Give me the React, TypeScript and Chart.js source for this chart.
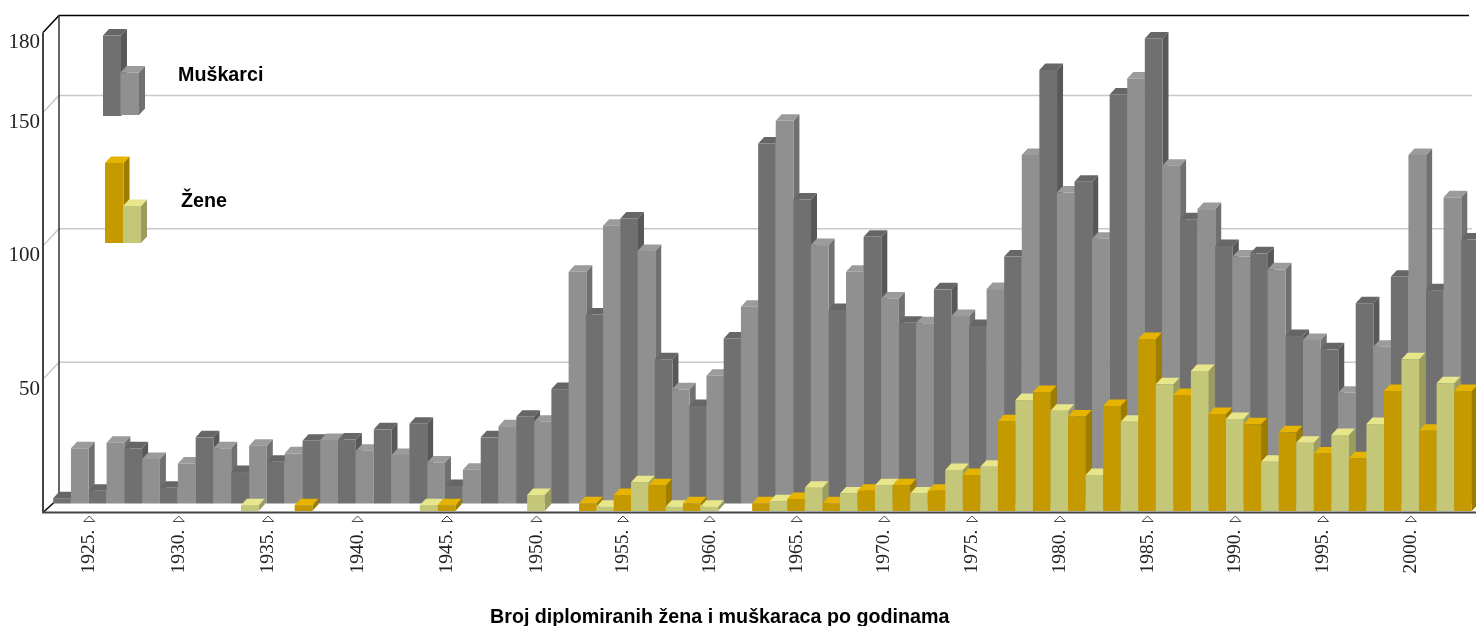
import React, { useEffect, useRef } from "react";
import { Chart, registerables, BarController, BarElement, CategoryScale } from "chart.js";

const firstYear = 1923;
const years = [
  1923, 1924, 1925, 1926, 1927, 1928, 1929, 1930, 1931, 1932, 1933, 1934, 1935, 1936, 1937, 1938, 1939, 1940, 1941, 1942,
  1943, 1944, 1945, 1946, 1947, 1948, 1949, 1950, 1951, 1952, 1953, 1954, 1955, 1956, 1957, 1958, 1959, 1960, 1961, 1962,
  1963, 1964, 1965, 1966, 1967, 1968, 1969, 1970, 1971, 1972, 1973, 1974, 1975, 1976, 1977, 1978, 1979, 1980, 1981, 1982,
  1983, 1984, 1985, 1986, 1987, 1988, 1989, 1990, 1991, 1992, 1993, 1994, 1995, 1996, 1997, 1998, 1999, 2000, 2001, 2002, 2003,
];
const tickYears = [1925, 1930, 1935, 1940, 1945, 1950, 1955, 1960, 1965, 1970, 1975, 1980, 1985, 1990, 1995, 2000];
const valueTicks = [50, 100, 150, 180];

const men = [
  2, 20.7, 4.8, 22.8, 20.7, 16.7, 5.9, 15, 24.8, 20.7, 11.8, 21.7, 15.7, 18.8, 23.5, 23.8, 24, 19.8, 27.8, 18.2,
  29.9, 15.4, 6.6, 12.7, 24.8, 29, 32.5, 30.7, 42.9, 86.9, 70.9, 104.2, 106.9, 94.7, 54.1, 42.8, 36.6, 47.9, 61.9, 73.8,
  135, 143.5, 114, 96.9, 72.6, 86.9, 100, 76.9, 67.8, 67.6, 80.3, 70.3, 66.6, 80.4, 92.6, 130.7, 162.6, 116.6, 120.7, 99.3,
  153.4, 159.4, 174.4, 126.7, 106.6, 110.4, 96.6, 92.6, 93.8, 87.8, 62.8, 61.3, 57.8, 41.5, 75.1, 58.8, 85, 130.7, 80, 114.8, 99,
];
const women = [
  null, null, null, null, null, null, null, null, null, null, null, 2.2, null, null, 2.2, null, null, null, null, null,
  null, 2.2, 2.2, null, null, null, null, 6, null, null, 2.9, 1.6, 6, 10.8, 9.7, 1.6, 2.9, 1.6, null, null,
  2.9, 3.7, 4.5, 8.7, 2.9, 6.6, 7.6, 9.7, 9.7, 6.6, 7.6, 15.4, 13.5, 16.6, 33.7, 41.6, 44.6, 37.6, 35.4, 13.5,
  39.4, 33.5, 64.5, 47.5, 43.5, 52.5, 36.4, 34.5, 32.5, 18.5, 29.5, 25.6, 21.6, 28.5, 19.8, 32.6, 45, 56.9, 30.1, 47.9, 45,
];

const seriesNames = ["Muškarci", "Žene"];
const chartTitle = "Broj diplomiranih žena i muškaraca po godinama";

const palette: Record<string, { top: string; side: string }> = {
  "#707070": { top: "#666666", side: "#585858" },
  "#909090": { top: "#9b9b9b", side: "#707070" },
  "#c49a00": { top: "#e6b400", side: "#9e7c00" },
  "#c4c678": { top: "#e8e68a", side: "#9c9c5e" },
};
const menColors = years.map((_, i) => (i % 2 === 0 ? "#707070" : "#909090"));
const womenColors = years.map((_, i) => (i % 2 === 0 ? "#c49a00" : "#c4c678"));

const DEPTH_X = 6;
const DEPTH_Y = 6.5;

function drawBox(ctx: CanvasRenderingContext2D, l: number, r: number, t: number, b: number, front: string) {
  const c = palette[front];
  ctx.fillStyle = c.side;
  ctx.beginPath();
  ctx.moveTo(r, t);
  ctx.lineTo(r + DEPTH_X, t - DEPTH_Y);
  ctx.lineTo(r + DEPTH_X, b - DEPTH_Y);
  ctx.lineTo(r, b);
  ctx.closePath();
  ctx.fill();
  ctx.fillStyle = c.top;
  ctx.beginPath();
  ctx.moveTo(l, t);
  ctx.lineTo(l + DEPTH_X, t - DEPTH_Y);
  ctx.lineTo(r + DEPTH_X, t - DEPTH_Y);
  ctx.lineTo(r, t);
  ctx.closePath();
  ctx.fill();
  ctx.fillStyle = front;
  ctx.fillRect(l, t, r - l, b - t);
}

class Bar3DElement extends BarElement {
  static id = "bar3dElement";
  draw(ctx: CanvasRenderingContext2D) {
    const { x, y, base, width } = (this as any).getProps(["x", "y", "base", "width"]);
    drawBox(ctx, x - width / 2, x + width / 2, y, base, (this as any).options.backgroundColor);
  }
}

class Bar3DController extends BarController {
  static id = "bar3d";
  static defaults = { ...BarController.defaults, dataElementType: "bar3dElement" };
}

// The source picture's category spacing is slightly uneven along the axis: each
// scale interpolates between a few calibration knots (index, pixel).
class SteppedCategoryScale extends CategoryScale {
  static id = "steppedCategory";
  static defaults = CategoryScale.defaults;
  getPixelForValue(value: any) {
    const v = typeof value === "number" ? value : (this as any).parse(value);
    const knots: number[][] = (this as any).options.knots;
    let k = 0;
    while (k < knots.length - 2 && v > knots[k + 1][0]) k++;
    const a = knots[k];
    const b = knots[k + 1];
    return a[1] + ((v - a[0]) * (b[1] - a[1])) / (b[0] - a[0]);
  }
}

Chart.register(...registerables, Bar3DElement, Bar3DController, SteppedCategoryScale);

const yShift: Record<string, number> = { women: -1.5, men: -9 };
const WALL = 16;
const WALL_Y = 17;

const scenePlugin = {
  id: "scene",
  beforeDatasetsDraw(chart: any) {
    const { ctx, scales } = chart;
    const y = scales.y;
    const x0 = y.right;
    const zero = y.getPixelForValue(0);
    const topY = y.getPixelForValue(180);
    const backX = x0 + WALL;
    ctx.save();
    ctx.lineWidth = 1.5;
    ctx.strokeStyle = "#c8c8c8";
    for (const v of valueTicks) {
      if (v === 180) continue;
      const p = y.getPixelForValue(v);
      ctx.beginPath();
      ctx.moveTo(x0, p);
      ctx.lineTo(backX, p - WALL_Y);
      ctx.lineTo(1472, p - WALL_Y);
      ctx.stroke();
    }
    ctx.strokeStyle = "#000";
    ctx.beginPath();
    ctx.moveTo(x0, topY);
    ctx.lineTo(backX, topY - WALL_Y);
    ctx.lineTo(1469, topY - WALL_Y);
    ctx.stroke();
    ctx.strokeStyle = "#333";
    ctx.beginPath();
    ctx.moveTo(backX, topY - WALL_Y);
    ctx.lineTo(backX, zero - WALL_Y);
    ctx.stroke();
    ctx.strokeStyle = "#000";
    ctx.beginPath();
    ctx.moveTo(x0, zero);
    ctx.lineTo(x0 + 11, zero - 10);
    ctx.stroke();
    ctx.restore();
  },
  beforeDatasetDraw(chart: any, args: any) {
    chart.ctx.save();
    chart.ctx.translate(0, yShift[chart.data.datasets[args.index].key]);
  },
  afterDatasetDraw(chart: any) {
    chart.ctx.restore();
  },
  afterDatasetsDraw(chart: any) {
    const { ctx, scales } = chart;
    const y = scales.y;
    const x = scales.x;
    const x0 = y.right;
    const zero = y.getPixelForValue(0);
    const topY = y.getPixelForValue(180);
    ctx.save();
    ctx.lineWidth = 2;
    ctx.strokeStyle = "#444";
    ctx.beginPath();
    ctx.moveTo(x0, topY);
    ctx.lineTo(x0, zero);
    ctx.lineTo(1476, zero);
    ctx.stroke();
    ctx.lineWidth = 1;
    ctx.strokeStyle = "#444";
    ctx.fillStyle = "#fff";
    for (const yr of tickYears) {
      const p = x.getPixelForValue(yr - firstYear) + 0.5;
      ctx.beginPath();
      ctx.moveTo(p - 5.5, 521.5);
      ctx.lineTo(p + 5.5, 521.5);
      ctx.lineTo(p, 516);
      ctx.closePath();
      ctx.fill();
      ctx.stroke();
    }
    drawBox(ctx, 103, 121, 35.5, 116, "#707070");
    drawBox(ctx, 120.5, 139, 72.5, 115, "#909090");
    drawBox(ctx, 105, 123.5, 163, 243, "#c49a00");
    drawBox(ctx, 123, 141, 206, 243, "#c4c678");
    ctx.fillStyle = "#000";
    ctx.font = "bold 19.7px 'Liberation Sans'";
    ctx.textAlign = "left";
    ctx.textBaseline = "alphabetic";
    ctx.fillText(seriesNames[0], 178, 81);
    ctx.fillText(seriesNames[1], 181, 207);
    ctx.fillText(chartTitle, 490, 623);
    ctx.restore();
  },
};

export default function App() {
  const ref = useRef<HTMLCanvasElement>(null);
  useEffect(() => {
    const chart = new Chart(ref.current!, {
      type: "bar3d" as any,
      plugins: [scenePlugin],
      data: {
        labels: years.map(String),
        datasets: [
          { key: "women", label: seriesNames[1], data: women, xAxisID: "x", backgroundColor: womenColors, barThickness: 17.7, grouped: false, clip: false },
          { key: "men", label: seriesNames[0], data: men, xAxisID: "xMen", backgroundColor: menColors, barThickness: 17.7, grouped: false, clip: false },
        ] as any,
      },
      options: {
        animation: false,
        responsive: false,
        events: [],
        layout: { padding: { top: 32.5, bottom: 0, left: 0, right: 0 } },
        plugins: { legend: { display: false }, title: { display: false }, tooltip: { enabled: false } },
        scales: {
          x: {
            type: "steppedCategory" as any,
            knots: [[0, 53], [27, 536], [40, 761], [80, 1463]],
            grid: { display: false, drawTicks: false },
            border: { display: false },
            afterFit: (s: any) => { s.height = 113.5; },
            ticks: {
              autoSkip: false,
              minRotation: 90,
              maxRotation: 90,
              padding: 17,
              labelOffset: 0.5,
              color: "#222",
              font: { family: "'Liberation Serif'", size: 19.5 },
              callback: (_: any, i: number) => (tickYears.includes(years[i]) ? `${years[i]}.` : ""),
            },
          },
          xMen: {
            type: "steppedCategory" as any,
            axis: "x",
            display: false,
            knots: [[0, 62], [27, 543], [40, 767], [80, 1470]],
          },
          y: {
            min: 0,
            max: 180,
            grid: { display: false, drawTicks: false },
            border: { display: false },
            afterFit: (s: any) => { s.width = 43; },
            afterBuildTicks: (s: any) => { s.ticks = valueTicks.map((value) => ({ value })); },
            ticks: {
              autoSkip: false,
              padding: 3,
              labelOffset: 10,
              color: "#222",
              font: { family: "'Liberation Serif'", size: 21 },
            },
          },
        },
      } as any,
    });
    return () => chart.destroy();
  }, []);
  return (
    <div style={{ position: "absolute", left: 0, top: 0, width: 1476, height: 626, overflow: "hidden", background: "#fff" }}>
      <canvas ref={ref} width={1476} height={626} style={{ display: "block" }} />
    </div>
  );
}
